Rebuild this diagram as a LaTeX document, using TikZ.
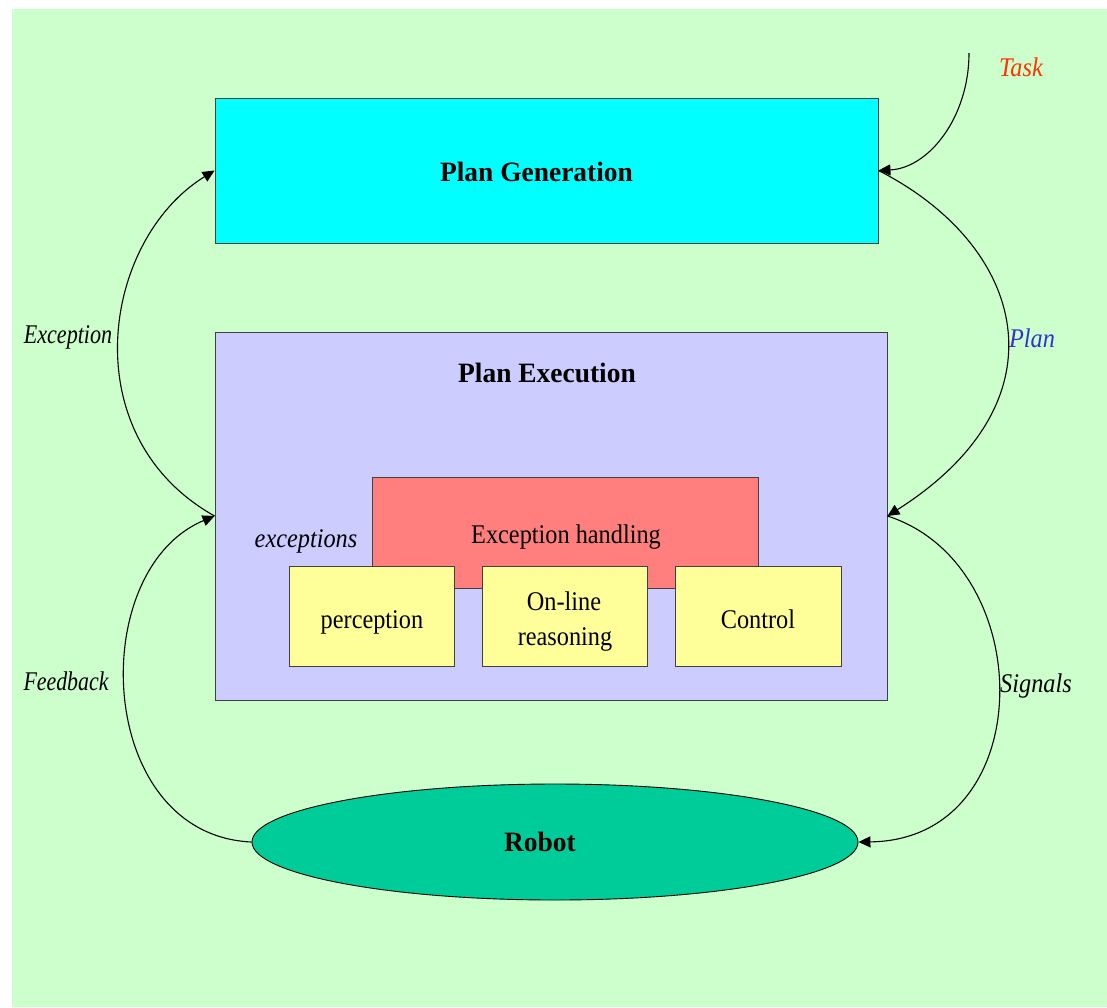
\documentclass[tikz,border=0pt]{standalone}
\usepackage{fontspec}
\setmainfont{Liberation Serif}[
  UprightFeatures={FakeStretch=0.9},
  ItalicFeatures={FakeStretch=0.9},
  BoldFeatures={FakeStretch=0.98}]
\usetikzlibrary{shapes.geometric,arrows.meta}

\definecolor{bggreen}{HTML}{CCFFCC}
\definecolor{gencyan}{HTML}{00FFFF}
\definecolor{exelav}{HTML}{CCCCFF}
\definecolor{exhred}{HTML}{FF7F7F}
\definecolor{modyel}{HTML}{FFFF99}
\definecolor{robgreen}{HTML}{00CC99}
\definecolor{tasktext}{HTML}{FF3300}
\definecolor{plantext}{HTML}{3333CC}

\begin{document}
\begin{tikzpicture}[x=1pt,y=-1pt,
  box/.style={draw=black!75, line width=0.9pt, inner sep=0pt, rectangle},
  link/.style={draw=black, line width=1.1pt, -{Triangle[length=12pt,width=11pt]}},
  title/.style={font=\fontsize{28}{32}\selectfont\bfseries, inner sep=0pt, anchor=base},
  body/.style={font=\fontsize{27}{35}\selectfont, inner sep=0pt, anchor=base},
  note/.style={font=\fontsize{27}{32}\selectfont\itshape, inner sep=0pt, anchor=base}]

\useasboundingbox (0,0) rectangle (1107,1007);
\fill[bggreen] (12,9) rectangle (1107,1007);

% main blocks
\node[box, fill=gencyan, minimum width=663pt, minimum height=145pt] (gen) at (546.5,170.5) {};
\node[box, fill=exelav, minimum width=672pt, minimum height=368pt] (exe) at (551,516) {};
\node[box, fill=exhred, minimum width=386pt, minimum height=111pt] (exh) at (565,532.5) {};
\node[box, fill=modyel, minimum width=165pt, minimum height=100pt] (per) at (371.5,616) {};
\node[box, fill=modyel, minimum width=165pt, minimum height=100pt] (rea) at (564.5,616) {};
\node[box, fill=modyel, minimum width=166pt, minimum height=100pt] (ctl) at (758,616) {};
\node[draw=black, line width=0.9pt, ellipse, fill=robgreen, inner sep=0pt,
      minimum width=606pt, minimum height=116pt] (rob) at (555,842) {};

% block texts
\node[title] (genT) at (536.5,181) {Plan Generation};
\node[title] (exeT) at (547,382) {Plan Execution};
\node[body] (exhT) at (566,543) {Exception handling};
\node[body] (perT) at (372,628) {perception};
\node[body] (reaT1) at (564,610) {On-line};
\node[body] (reaT2) at (565,645) {reasoning};
\node[body] (ctlT) at (758,628) {Control};
\node[title] (robT) at (540,851) {Robot};

% connector labels
\node[note, text=tasktext] (taskL) at (1021,76) {Task};
\node[note, text=plantext] (planL) at (1032,347) {Plan};
\node[note] (sigL) at (1036,692) {Signals};
\node[note] (excL) at (68,343) {\scalebox{0.91}[1]{Exception}};
\node[note] (fbL) at (66,690) {\scalebox{0.9}[1]{Feedback}};
\node[note] (excsL) at (306,547) {exceptions};

% connectors
\coordinate (taskIn) at (969,53);
\draw[link] (taskIn) .. controls (969,117) and (929,168) .. (gen.east);
\draw[link] (gen.east) .. controls (1025,245) and (1070,400) .. (exe.east);
\draw[link] (exe.east) .. controls (1040,565) and (1040,840) .. (rob.east);
\draw[link] (exe.west) .. controls (72,436) and (102,240) .. (gen.west);
\draw[link] (rob.west) .. controls (95,835) and (85,570) .. (exe.west);
\end{tikzpicture}
\end{document}
